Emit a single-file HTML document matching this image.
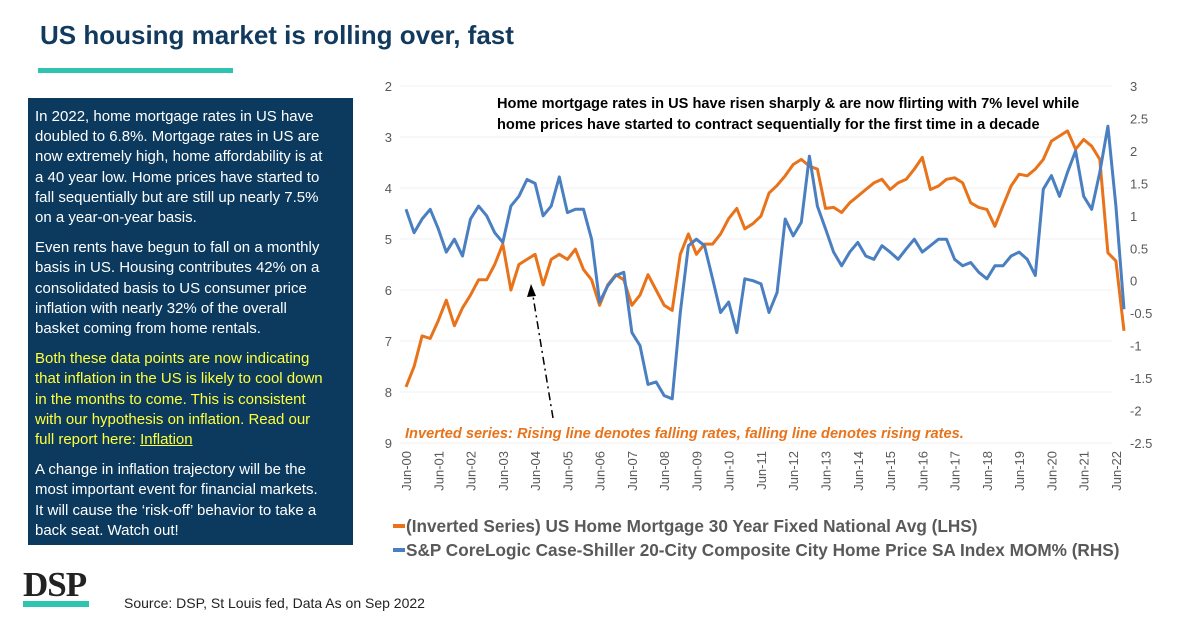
<!DOCTYPE html>
<html><head><meta charset="utf-8"><style>
body{margin:0;width:1200px;height:628px;background:#fff;position:relative;overflow:hidden;font-family:"Liberation Sans",sans-serif}
.abs{position:absolute}
#title{left:40px;top:20px;font-size:26px;font-weight:bold;color:#123a5e;white-space:nowrap}
#bar{left:38px;top:68px;width:195px;height:5px;background:#2ec4b0}
#box{left:28px;top:98px;width:325px;height:447px;background:#0c3a5e;color:#fff;font-size:15px;line-height:20.2px;box-sizing:border-box;padding:9px 0 0 7px;white-space:nowrap}
#box p{margin:0 0 10px 0}
.y{color:#ffff3c}
#logo{left:23px;top:565px;font-family:"Liberation Serif",serif;font-weight:bold;font-size:35px;color:#222;letter-spacing:-1px}
#logobar{left:23px;top:601px;width:66px;height:6px;background:#2ec4b0}
#src{left:124px;top:595px;font-size:14px;color:#222}
</style></head><body>
<div id="title" class="abs">US housing market is rolling over, fast</div>
<div id="bar" class="abs"></div>
<div id="box" class="abs">
<p>In 2022, home mortgage rates in US have<br>doubled to 6.8%. Mortgage rates in US are<br>now extremely high, home affordability is at<br>a 40 year low. Home prices have started to<br>fall sequentially but are still up nearly 7.5%<br>on a year-on-year basis.</p>
<p>Even rents have begun to fall on a monthly<br>basis in US. Housing contributes 42% on a<br>consolidated basis to US consumer price<br>inflation with nearly 32% of the overall<br>basket coming from home rentals.</p>
<p class="y">Both these data points are now indicating<br>that inflation in the US is likely to cool down<br>in the months to come. This is consistent<br>with our hypothesis on inflation. Read our<br>full report here: <u>Inflation</u></p>
<p>A change in inflation trajectory will be the<br>most important event for financial markets.<br>It will cause the ‘risk-off’ behavior to take a<br>back seat. Watch out!</p>
</div>
<div id="logo" class="abs">DSP</div>
<div id="logobar" class="abs"></div>
<div id="src" class="abs">Source: DSP, St Louis fed, Data As on Sep 2022</div>
<svg id="chart" class="abs" style="left:0;top:0" width="1200" height="628"></svg>
<script>
const years=[2000,2001,2002,2003,2004,2005,2006,2007,2008,2009,2010,2011,2012,2013,2014,2015,2016,2017,2018,2019,2020,2021,2022];
const leftTicks=[2,3,4,5,6,7,8,9];
const rightTicks=[3,2.5,2,1.5,1,0.5,0,-0.5,-1,-1.5,-2,-2.5];
const mortgage=[7.9,7.5,6.9,6.95,6.6,6.2,6.7,6.35,6.1,5.8,5.8,5.5,5.1,6.0,5.5,5.4,5.3,5.9,5.4,5.3,5.4,5.2,5.6,5.8,6.3,5.9,5.7,5.8,6.3,6.1,5.7,6.0,6.3,6.4,5.3,4.9,5.3,5.1,5.1,4.9,4.6,4.4,4.8,4.7,4.55,4.1,3.95,3.76,3.54,3.44,3.57,3.63,4.4,4.38,4.48,4.29,4.16,4.03,3.9,3.83,4.03,3.9,3.83,3.63,3.4,4.03,3.96,3.83,3.8,3.9,4.29,4.38,4.42,4.75,4.35,3.96,3.73,3.76,3.63,3.44,3.08,2.98,2.88,3.24,3.05,3.18,3.44,5.27,5.43,6.8];
const hpi=[1.1,0.74,0.95,1.1,0.8,0.44,0.64,0.38,0.95,1.15,1.0,0.74,0.59,1.15,1.3,1.56,1.5,1.0,1.15,1.6,1.05,1.1,1.1,0.64,-0.33,-0.08,0.08,0.13,-0.8,-1.0,-1.6,-1.56,-1.77,-1.82,-0.49,0.54,0.64,0.54,0.03,-0.49,-0.33,-0.8,0.03,0.0,-0.05,-0.49,-0.18,0.95,0.69,0.9,1.92,1.15,0.8,0.44,0.23,0.44,0.59,0.38,0.33,0.54,0.44,0.33,0.49,0.64,0.44,0.54,0.64,0.64,0.33,0.23,0.28,0.13,0.03,0.23,0.23,0.38,0.44,0.33,0.08,1.41,1.62,1.3,1.67,2.0,1.3,1.1,1.67,2.38,1.15,-0.44];
const startT=2000.5, stepT=0.25;
const NS='http://www.w3.org/2000/svg';
const svg=document.getElementById('chart');
function xS(t){return 406+(t-2000.5)*32.27;}
function yL(v){return 86+(v-2)*51;}
function yR(v){return 86+(3-v)*64.9;}
function mk(tag,attrs,parent){const e=document.createElementNS(NS,tag);for(const k in attrs)e.setAttribute(k,attrs[k]);(parent||svg).appendChild(e);return e;}
leftTicks.forEach(v=>{
  const g=mk('line',{x1:400,x2:1112,y1:yL(v),y2:yL(v),stroke:'#f0f0f0','stroke-width':1});
  
  
  const t=mk('text',{x:392,y:yL(v)+5,'text-anchor':'end','font-size':13,fill:'#595959','font-family':'Liberation Sans, sans-serif'});
  t.textContent=v;
  
  
});
rightTicks.forEach(v=>{
  const t=mk('text',{x:1130,y:yR(v)+5,'font-size':13,fill:'#595959','font-family':'Liberation Sans, sans-serif'});
  t.textContent=v;
  
  
});
years.forEach(y=>{
  const x=xS(y+0.5);
  const t=mk('text',{transform:`translate(${x+5},451) rotate(-90)`,'text-anchor':'end','font-size':13,fill:'#595959','font-family':'Liberation Sans, sans-serif'});
  t.textContent='Jun-'+String(y%100).padStart(2,'0');
  
  
});
function series(arr,yf,color,name){
  const d=arr.map((v,i)=>(i?'L':'M')+xS(startT+i*stepT).toFixed(1)+' '+yf(v).toFixed(1)).join(' ');
  const p=mk('path',{d:d,fill:'none',stroke:color,'stroke-width':3,'stroke-linejoin':'round'});
  
  
}
series(mortgage,yL,'#e8731a','mortgage-rate-line');
series(hpi,yR,'#4a7fc1','home-price-line');
const a1=mk('line',{x1:553,x2:532,y1:418,y2:290,stroke:'#000','stroke-width':1.5,'stroke-dasharray':'8 4 2 4'});


const a2=mk('polygon',{points:'531,284 527,297 536,296',fill:'#000'});


function txt(x,y,s,attrs,name){const t=mk('text',Object.assign({x:x,y:y,'font-family':'Liberation Sans, sans-serif'},attrs));t.textContent=s;return t;}
txt(497,108,'Home mortgage rates in US have risen sharply & are now flirting with 7% level while',{'font-size':14.6,'font-weight':'bold',fill:'#000'},'annotation-line-1');
txt(497,129,'home prices have started to contract sequentially for the first time in a decade',{'font-size':14.6,'font-weight':'bold',fill:'#000'},'annotation-line-2');
txt(405,438,'Inverted series: Rising line denotes falling rates, falling line denotes rising rates.',{'font-size':14.6,'font-weight':'bold','font-style':'italic',fill:'#e8731a'},'inverted-note');
const l1=mk('line',{x1:393,x2:405,y1:526,y2:526,stroke:'#e8731a','stroke-width':4});


txt(406,532,'(Inverted Series) US Home Mortgage 30 Year Fixed National Avg  (LHS)',{'font-size':17.2,'font-weight':'bold',fill:'#595959'},'legend-entry-mortgage');
const l2=mk('line',{x1:393,x2:405,y1:550,y2:550,stroke:'#4a7fc1','stroke-width':4});


txt(406,556,'S&P CoreLogic Case-Shiller 20-City Composite City Home Price SA Index MOM%  (RHS)',{'font-size':17.2,'font-weight':'bold',fill:'#595959'},'legend-entry-hpi');
</script>
</body></html>
